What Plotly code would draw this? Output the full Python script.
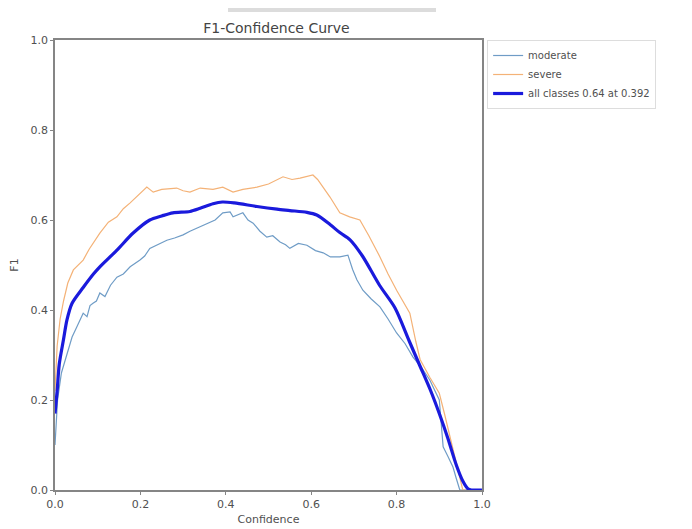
import plotly.graph_objects as go

# ---- data ----
all_x = [0.0, 0.005, 0.01, 0.02, 0.028, 0.04, 0.066, 0.09, 0.105, 0.145, 0.183, 0.222,
         0.25, 0.276, 0.316, 0.34, 0.37, 0.392, 0.42, 0.473, 0.52, 0.55, 0.59, 0.613,
         0.644, 0.667, 0.691, 0.72, 0.76, 0.796, 0.83, 0.855, 0.88, 0.90, 0.92, 0.94,
         0.955, 0.967, 0.975, 1.0]
all_y = [0.17, 0.22, 0.28, 0.335, 0.378, 0.415, 0.45, 0.48, 0.496, 0.533, 0.571, 0.6,
         0.609, 0.616, 0.619, 0.626, 0.636, 0.64, 0.638, 0.63, 0.624, 0.621, 0.617, 0.611,
         0.59, 0.572, 0.556, 0.52, 0.455, 0.405, 0.33, 0.275, 0.22, 0.17, 0.115, 0.055,
         0.02, 0.003, 0.0, 0.0]

sev_x = [0.0, 0.005, 0.012, 0.02, 0.03, 0.043, 0.066, 0.08, 0.105, 0.125, 0.145, 0.16,
         0.176, 0.195, 0.215, 0.23, 0.25, 0.285, 0.3, 0.316, 0.34, 0.37, 0.393, 0.417,
         0.44, 0.473, 0.5, 0.534, 0.555, 0.574, 0.604, 0.615, 0.628, 0.644, 0.667, 0.69,
         0.714, 0.735, 0.761, 0.78, 0.8, 0.815, 0.831, 0.845, 0.855, 0.878, 0.9, 0.912,
         0.925, 0.937, 0.948, 0.955, 1.0]
sev_y = [0.22, 0.32, 0.38, 0.42, 0.46, 0.489, 0.511, 0.535, 0.571, 0.595, 0.607, 0.625,
         0.638, 0.655, 0.673, 0.662, 0.668, 0.671, 0.665, 0.662, 0.671, 0.668, 0.673, 0.662,
         0.668, 0.673, 0.68, 0.696, 0.69, 0.693, 0.7, 0.69, 0.673, 0.651, 0.616, 0.607,
         0.6, 0.565, 0.518, 0.48, 0.444, 0.42, 0.393, 0.33, 0.29, 0.25, 0.215, 0.17,
         0.118, 0.07, 0.022, 0.0, 0.0]

mod_x = [0.0, 0.006, 0.015, 0.028, 0.04, 0.051, 0.058, 0.066, 0.075, 0.082, 0.089, 0.097,
         0.105, 0.117, 0.13, 0.145, 0.16, 0.176, 0.199, 0.21, 0.222, 0.24, 0.262, 0.28,
         0.3, 0.316, 0.332, 0.356, 0.375, 0.393, 0.41, 0.417, 0.43, 0.44, 0.452, 0.464,
         0.48, 0.496, 0.51, 0.527, 0.54, 0.55, 0.57, 0.59, 0.61, 0.628, 0.645, 0.667,
         0.686, 0.697, 0.707, 0.721, 0.74, 0.761, 0.78, 0.8, 0.82, 0.838, 0.86, 0.878,
         0.9, 0.905, 0.909, 0.92, 0.932, 0.94, 0.948, 1.0]
mod_y = [0.1, 0.2, 0.26, 0.304, 0.34, 0.362, 0.375, 0.393, 0.385, 0.41, 0.415, 0.42,
         0.438, 0.43, 0.455, 0.473, 0.48, 0.496, 0.511, 0.52, 0.537, 0.545, 0.555, 0.56,
         0.567, 0.575, 0.582, 0.593, 0.6, 0.616, 0.618, 0.607, 0.612, 0.616, 0.6, 0.593,
         0.575, 0.562, 0.565, 0.551, 0.545, 0.537, 0.548, 0.544, 0.532, 0.527, 0.518, 0.518,
         0.522, 0.49, 0.467, 0.444, 0.425, 0.407, 0.38, 0.349, 0.325, 0.296, 0.27, 0.244,
         0.2, 0.14, 0.096, 0.075, 0.051, 0.025, 0.0, 0.0]

tick_vals = [0.0, 0.2, 0.4, 0.6, 0.8, 1.0]
tick_text = ["0.0", "0.2", "0.4", "0.6", "0.8", "1.0"]

font_family = "DejaVu Sans"
axis_color = "#858585"
text_color = "#505050"

fig = go.Figure()
fig.add_trace(go.Scatter(x=mod_x, y=mod_y, mode="lines", name="moderate",
                         line=dict(color="#6f9cc6", width=1.2)))
fig.add_trace(go.Scatter(x=sev_x, y=sev_y, mode="lines", name="severe",
                         line=dict(color="#f4b277", width=1.2)))
fig.add_trace(go.Scatter(x=all_x, y=all_y, mode="lines", name="all classes 0.64 at 0.392",
                         line=dict(color="#1a1adc", width=3.2, shape="spline",
                                   smoothing=0.8)))

axis_common = dict(range=[0, 1], tickvals=tick_vals, ticktext=tick_text,
                   showgrid=False, zeroline=False, showline=True, linecolor=axis_color,
                   linewidth=1.5, mirror=True, ticks="outside", ticklen=3,
                   tickcolor=axis_color, automargin=False,
                   tickfont=dict(size=11, color=text_color, family=font_family))

# the page body adds an 8px offset, so margins are shifted to compensate
ML, MR, MT, MB = 47, 218, 32, 47

fig.update_layout(
    width=692, height=529,
    margin=dict(l=ML, r=MR, t=MT, b=MB, autoexpand=False),
    paper_bgcolor="white", plot_bgcolor="white",
    font=dict(family=font_family, color=text_color, size=11),
    title=dict(text="F1-Confidence Curve", x=0.388, xanchor="center",
               y=0.962, yanchor="middle", font=dict(size=14, color="#444444")),
    xaxis=dict(**axis_common, title=dict(text="Confidence", standoff=5,
                                         font=dict(size=11, color=text_color))),
    yaxis=dict(**axis_common, title=dict(text="F1", standoff=10,
                                         font=dict(size=11, color=text_color))),
    legend=dict(x=1.012, y=1.0, xanchor="left", yanchor="top",
                bordercolor="#dddddd", borderwidth=1, bgcolor="white",
                font=dict(size=10, color=text_color, family=font_family),
                tracegroupgap=0, itemwidth=30),
    showlegend=True,
)

fig.add_shape(type="rect", xref="paper", yref="paper",
              x0=(220 - ML) / 427, x1=(428 - ML) / 427,
              y0=1 + (MT - 4) / 450, y1=1 + MT / 450,
              fillcolor="#dcdcdc", line=dict(width=0), layer="above")

fig.write_html("out.html")
